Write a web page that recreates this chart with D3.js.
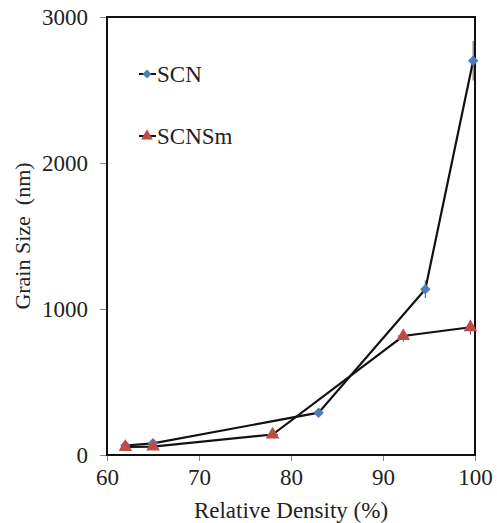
<!DOCTYPE html>
<html>
<head>
<meta charset="UTF-8">
<script src="https://cdnjs.cloudflare.com/ajax/libs/d3/7.8.5/d3.min.js"></script>
<style>
  body { margin: 0; background: #fff; }
</style>
</head>
<body>
<svg id="chart" width="497" height="523"></svg>
<script>
// data
var scnDensity = [62, 65, 83, 94.6, 99.8];
var scnSize    = [65, 80, 290, 1135, 2700];
var scnErrY    = [15, 15, 20, 60, 135];
var scnErrX    = [0.3, 0.3, 0.3, 0.5, 0.3];

var smDensity = [62, 65, 78, 92.2, 99.5];
var smSize    = [55, 58, 140, 815, 875];
var smErrY    = [15, 15, 20, 40, 50];
var smErrX    = [0.3, 0.3, 0.6, 0.6, 0.5];

var xTicks = [60, 70, 80, 90, 100];
var yTicks = [0, 1000, 2000, 3000];

var FONT = "'Liberation Serif', 'Times New Roman', serif";
var margin = {left: 107, top: 17, right: 22, bottom: 68};
var W = 497, H = 523;

var svg = d3.select("#chart");
var x = d3.scaleLinear().domain([60, 100]).range([margin.left, W - margin.right]);
var y = d3.scaleLinear().domain([0, 3000]).range([H - margin.bottom, margin.top]);

var xAxis = svg.append("g")
    .attr("transform", "translate(0," + (H - margin.bottom) + ")")
    .call(d3.axisBottom(x).tickValues(xTicks).tickSize(6).tickPadding(8).tickFormat(d3.format("d")));
var yAxis = svg.append("g")
    .attr("transform", "translate(" + margin.left + ",0)")
    .call(d3.axisLeft(y).tickValues(yTicks).tickSize(7).tickPadding(12).tickFormat(d3.format("d")));
[xAxis, yAxis].forEach(function(a){
    a.attr("font-family", FONT).attr("font-size", 23);
    a.select(".domain").remove();
    a.selectAll(".tick line").attr("stroke", "#888").attr("stroke-width", 1);
    a.selectAll(".tick text").attr("fill", "#222");
});

// frame
svg.append("rect")
    .attr("x", x(60)).attr("y", y(3000))
    .attr("width", x(100) - x(60)).attr("height", y(0) - y(3000))
    .attr("fill", "none").attr("stroke", "#111").attr("stroke-width", 2);

function series(dens, size, ex, ey, color, symbol, sz, rot) {
    var pts = dens.map(function(d, i){ return {x: d, y: size[i], ex: ex[i], ey: ey[i]}; });
    var g = svg.append("g");
    g.append("path").datum(pts)
        .attr("fill", "none").attr("stroke", "#111").attr("stroke-width", 2.2)
        .attr("d", d3.line().x(function(d){ return x(d.x); }).y(function(d){ return y(d.y); }));
    var eb = g.selectAll(".eb").data(pts).join("g").attr("stroke", "#555").attr("stroke-width", 1);
    eb.append("line")
        .attr("x1", function(d){ return x(d.x); }).attr("x2", function(d){ return x(d.x); })
        .attr("y1", function(d){ return y(d.y - d.ey); }).attr("y2", function(d){ return y(d.y + d.ey); });
    eb.append("line")
        .attr("x1", function(d){ return x(d.x - d.ex); }).attr("x2", function(d){ return x(d.x + d.ex); })
        .attr("y1", function(d){ return y(d.y); }).attr("y2", function(d){ return y(d.y); });
    g.selectAll(".m").data(pts).join("path")
        .attr("transform", function(d){ return "translate(" + x(d.x) + "," + y(d.y) + ") rotate(" + rot + ")"; })
        .attr("d", d3.symbol().type(symbol).size(sz))
        .attr("fill", color);
}
series(scnDensity, scnSize, scnErrX, scnErrY, "#4a7ebb", d3.symbolSquare, 55, 45);
series(smDensity, smSize, smErrX, smErrY, "#be4b48", d3.symbolTriangle, 80, 0);

// legend
var legend = [{name: "SCN", color: "#4a7ebb", sym: d3.symbolSquare, sz: 40, rot: 45, y: 74},
              {name: "SCNSm", color: "#be4b48", sym: d3.symbolTriangle, sz: 60, rot: 0, y: 136}];
legend.forEach(function(l){
    svg.append("line").attr("x1", 139).attr("x2", 156).attr("y1", l.y).attr("y2", l.y)
        .attr("stroke", "#111").attr("stroke-width", 2);
    svg.append("path").attr("transform", "translate(147," + l.y + ") rotate(" + l.rot + ")")
        .attr("d", d3.symbol().type(l.sym).size(l.sz)).attr("fill", l.color);
    svg.append("text").attr("x", 157).attr("y", l.y + 8)
        .attr("font-family", FONT).attr("font-size", 23).attr("fill", "#222").text(l.name);
});

// axis titles
svg.append("text").attr("x", (x(60) + x(100)) / 2).attr("y", 518)
    .attr("text-anchor", "middle").attr("font-family", FONT).attr("font-size", 23)
    .attr("fill", "#222").text("Relative Density (%)");
svg.append("text")
    .attr("transform", "translate(30," + (y(0) + y(3000)) / 2 + ") rotate(-90)")
    .attr("text-anchor", "middle").attr("font-family", FONT).attr("font-size", 22)
    .attr("fill", "#222").style("white-space", "pre")
    .text("Grain Size  (nm)");
</script>
</body>
</html>
